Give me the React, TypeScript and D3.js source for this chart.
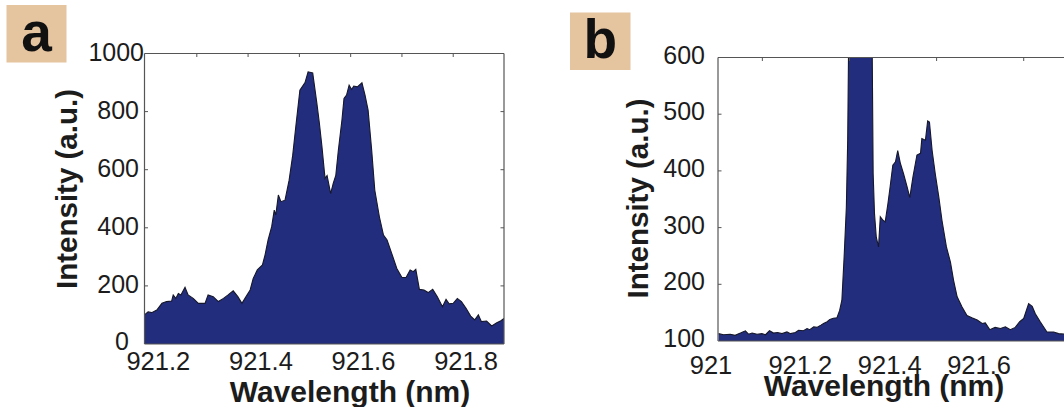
import React from "react";
import * as d3 from "d3";

// Panel a: emission spectrum (wavelength in nm, intensity in a.u.)
const waveA = [
  921.173, 921.18, 921.187, 921.197, 921.207, 921.216, 921.226, 921.229, 921.234, 921.239,
  921.244, 921.252, 921.258, 921.268, 921.278, 921.291, 921.297, 921.307, 921.317, 921.327,
  921.336, 921.346, 921.355, 921.363, 921.371, 921.379, 921.385, 921.393, 921.403, 921.408,
  921.414, 921.421, 921.426, 921.429, 921.434, 921.439, 921.447, 921.455, 921.462, 921.468,
  921.476, 921.486, 921.492, 921.501, 921.509, 921.514, 921.519, 921.525, 921.529, 921.536,
  921.541, 921.546, 921.551, 921.558, 921.562, 921.567, 921.572, 921.577, 921.581, 921.588,
  921.597, 921.603, 921.609, 921.616, 921.622, 921.631, 921.639, 921.646, 921.655, 921.665,
  921.675, 921.683, 921.691, 921.697, 921.702, 921.709, 921.718, 921.726, 921.735, 921.744,
  921.754, 921.761, 921.767, 921.775, 921.783, 921.791, 921.8, 921.809, 921.817, 921.824,
  921.83, 921.84, 921.85, 921.86, 921.868, 921.874,
];
const intensityA = [
  100, 111, 108, 117, 140, 146, 148, 169, 157, 174,
  169, 195, 169, 157, 140, 140, 169, 163, 146, 157,
  169, 183, 163, 140, 163, 186, 226, 255, 272, 306,
  358, 404, 461, 444, 513, 490, 495, 564, 650, 748,
  874, 900, 937, 933, 830, 760, 680, 570, 580, 518,
  553, 580, 667, 771, 845, 857, 891, 876, 888, 885,
  899, 857, 805, 667, 530, 438, 375, 358, 312, 260,
  229, 229, 255, 249, 257, 188, 186, 177, 188, 163,
  128, 154, 138, 140, 157, 146, 123, 96, 83, 100,
  77, 79, 62, 73, 80, 88,
];

// Panel b: spectrum with a strong line that runs off the top of the axes
const waveB = [
  921.017, 921.028, 921.043, 921.054, 921.066, 921.077, 921.084, 921.092, 921.103, 921.114,
  921.122, 921.131, 921.14, 921.149, 921.159, 921.17, 921.178, 921.189, 921.196, 921.207,
  921.215, 921.221, 921.23, 921.237, 921.246, 921.252, 921.26, 921.266, 921.274, 921.282,
  921.288, 921.293, 921.298, 921.303, 921.306, 921.309, 921.316, 921.334, 921.352, 921.36,
  921.363, 921.366, 921.37, 921.375, 921.379, 921.385, 921.39, 921.396, 921.401, 921.407,
  921.413, 921.418, 921.424, 921.431, 921.439, 921.445, 921.452, 921.461, 921.469, 921.472,
  921.48, 921.485, 921.489, 921.495, 921.502, 921.51, 921.517, 921.527, 921.536, 921.543,
  921.551, 921.562, 921.573, 921.584, 921.596, 921.607, 921.614, 921.624, 921.636, 921.648,
  921.659, 921.67, 921.681, 921.691, 921.7, 921.711, 921.719, 921.726, 921.737, 921.752,
  921.767, 921.778, 921.791, 921.826,
];
const intensityB = [
  113, 111, 112, 110, 114, 118, 112, 114, 112, 113,
  111, 118, 114, 115, 113, 116, 113, 115, 119, 118,
  122, 120, 125, 124, 128, 131, 134, 138, 140, 141,
  154, 172, 248, 336, 454, 700, 1400, 1800, 1200, 700,
  395, 325, 283, 266, 319, 313, 310, 342, 372, 410,
  416, 436, 413, 395, 372, 353, 389, 428, 431, 457,
  454, 488, 486, 436, 395, 354, 313, 266, 239, 207,
  178, 160, 145, 141, 137, 131, 132, 120, 124, 122,
  125, 120, 124, 134, 140, 166, 161, 148, 134, 116,
  116, 113, 112, 110,
];

// Axis labels
const xLabelsA = [921.2, 921.4, 921.6, 921.8];
const yLabelsA = [0, 200, 400, 600, 800, 1000];
const yTicksA = [200, 400, 600, 800];
const xTicksA = [921.275, 921.375, 921.475, 921.575, 921.675, 921.775];

const xLabelsB = [921, 921.2, 921.4, 921.6];
const yLabelsB = [100, 200, 300, 400, 500, 600];
const yTicksB = [200, 300, 400, 500];
const xTicksB = [921.115, 921.31, 921.505, 921.7];

const FONT = "'Liberation Sans', Arial, Helvetica, sans-serif";
const FILL = "#232d7e";
const FRAME = "#555";
const TEXT = "#1c1c1c";

type Box = { left: number; right: number; top: number; bottom: number };

function Spectrum(props: {
  id: string;
  box: Box;
  xDomain: [number, number];
  yDomain: [number, number];
  wave: number[];
  intensity: number[];
  xLabels: number[];
  xLabelFormat: (v: number) => string;
  xLabelBaseline: number;
  xTicks: number[];
  yLabels: number[];
  yTicks: number[];
  yLabelRight: (v: number) => number;
  yLabelShift: (v: number) => number;
  showRight: boolean;
  titleX: number;
  titleBaseline: number;
  yTitleX: number;
  yTitleY: number;
  panel: string;
  panelBox: { x: number; y: number; w: number; h: number };
}) {
  const { box } = props;
  const x = d3.scaleLinear().domain(props.xDomain).range([box.left, box.right]);
  const y = d3.scaleLinear().domain(props.yDomain).range([box.bottom, box.top]);
  const pts = props.wave.map((w, i) => [w, props.intensity[i]] as [number, number]);
  const area = d3
    .area<[number, number]>()
    .x((d) => x(d[0]))
    .y0(y(props.yDomain[0]))
    .y1((d) => y(d[1]));
  const line = d3
    .line<[number, number]>()
    .x((d) => x(d[0]))
    .y((d) => y(d[1]));
  const tl = 3.5;
  return (
    <g>
      <defs>
        <clipPath id={props.id}>
          <rect x={box.left} y={box.top} width={box.right - box.left} height={box.bottom - box.top} />
        </clipPath>
      </defs>
      <g clipPath={`url(#${props.id})`}>
        <path d={area(pts) || ""} fill={FILL} />
        <path d={line(pts) || ""} fill="none" stroke="#15172a" strokeWidth={1.1} />
      </g>
      {/* frame */}
      <line x1={box.left} x2={box.right} y1={box.top} y2={box.top} stroke={FRAME} strokeWidth={1.2} />
      <line x1={box.left} x2={box.left} y1={box.top} y2={box.bottom} stroke={FRAME} strokeWidth={1.2} />
      <line x1={box.left} x2={box.right} y1={box.bottom} y2={box.bottom} stroke={FRAME} strokeWidth={1} />
      {props.showRight && (
        <line x1={box.right} x2={box.right} y1={box.top} y2={box.bottom} stroke={FRAME} strokeWidth={1.2} />
      )}
      {/* inward ticks */}
      {props.xTicks.map((t) => (
        <line key={"xt" + t} x1={x(t)} x2={x(t)} y1={box.top} y2={box.top + tl} stroke={FRAME} strokeWidth={1} />
      ))}
      {props.yTicks.map((t) => (
        <g key={"yt" + t}>
          <line x1={box.left} x2={box.left + tl} y1={y(t)} y2={y(t)} stroke={FRAME} strokeWidth={1} />
          {props.showRight && (
            <line x1={box.right} x2={box.right - tl} y1={y(t)} y2={y(t)} stroke={FRAME} strokeWidth={1} />
          )}
        </g>
      ))}
      {/* tick labels */}
      {props.yLabels.map((t) => (
        <text
          key={"yl" + t}
          x={props.yLabelRight(t)}
          y={y(t) + props.yLabelShift(t)}
          dy="0.36em"
          textAnchor="end"
          fontFamily={FONT}
          fontSize={25}
          fill={TEXT}
        >
          {t}
        </text>
      ))}
      {props.xLabels.map((t) => (
        <text
          key={"xl" + t}
          x={x(t)}
          y={props.xLabelBaseline}
          textAnchor="middle"
          fontFamily={FONT}
          fontSize={25.5}
          fill={TEXT}
        >
          {props.xLabelFormat(t)}
        </text>
      ))}
      {/* axis titles */}
      <text
        x={props.titleX}
        y={props.titleBaseline}
        textAnchor="middle"
        fontFamily={FONT}
        fontWeight="bold"
        fontSize={30}
        fill={TEXT}
      >
        Wavelength (nm)
      </text>
      <text
        transform={`translate(${props.yTitleX},${props.yTitleY}) rotate(-90)`}
        textAnchor="middle"
        fontFamily={FONT}
        fontWeight="bold"
        fontSize={29.5}
        fill={TEXT}
      >
        Intensity (a.u.)
      </text>
      {/* panel letter */}
      <rect
        x={props.panelBox.x}
        y={props.panelBox.y}
        width={props.panelBox.w}
        height={props.panelBox.h}
        fill="#e5c4a0"
      />
      <text
        x={props.panelBox.x + props.panelBox.w / 2}
        y={props.panelBox.y + props.panelBox.h - 12}
        textAnchor="middle"
        fontFamily={FONT}
        fontWeight="bold"
        fontSize={55}
        fill="#111"
      >
        {props.panel}
      </text>
    </g>
  );
}

export default function App() {
  return (
    <svg
      width={1064}
      height={407}
      viewBox="0 0 1064 407"
      style={{ position: "absolute", left: 0, top: 0, background: "#fff" }}
    >
      <rect x={0} y={0} width={1064} height={407} fill="#fff" />
      <Spectrum
        id="clipA"
        box={{ left: 144.5, right: 504, top: 53.5, bottom: 344 }}
        xDomain={[921.173, 921.874]}
        yDomain={[0, 1000]}
        wave={waveA}
        intensity={intensityA}
        xLabels={xLabelsA}
        xLabelFormat={(v) => v.toFixed(1)}
        xLabelBaseline={370}
        xTicks={xTicksA}
        yLabels={yLabelsA}
        yTicks={yTicksA}
        yLabelRight={(v) => (v === 1000 ? 144 : v === 0 ? 129 : 139)}
        yLabelShift={(v) => (v === 0 ? -3.5 : -2)}
        showRight={true}
        titleX={350}
        titleBaseline={401.5}
        yTitleX={76.5}
        yTitleY={189}
        panel="a"
        panelBox={{ x: 6.5, y: 5, w: 60, h: 57.5 }}
      />
      <Spectrum
        id="clipB"
        box={{ left: 718, right: 1080, top: 57.5, bottom: 341 }}
        xDomain={[921.0157, 921.826]}
        yDomain={[100, 600]}
        wave={waveB}
        intensity={intensityB}
        xLabels={xLabelsB}
        xLabelFormat={(v) => (v === 921 ? "921" : v.toFixed(1))}
        xLabelBaseline={373.5}
        xTicks={xTicksB}
        yLabels={yLabelsB}
        yTicks={yTicksB}
        yLabelRight={() => 705}
        yLabelShift={() => -3}
        showRight={false}
        titleX={884}
        titleBaseline={395.5}
        yTitleX={648}
        yTitleY={198.5}
        panel="b"
        panelBox={{ x: 570, y: 12.5, w: 60.5, h: 57.5 }}
      />
    </svg>
  );
}
